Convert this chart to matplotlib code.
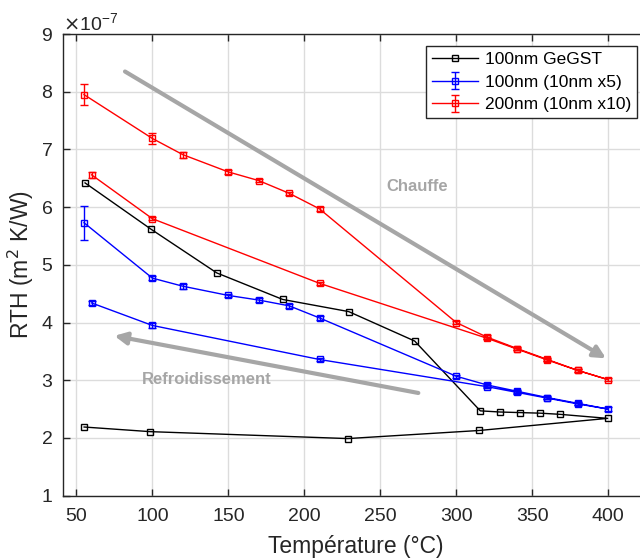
import matplotlib
matplotlib.use("Agg")
import matplotlib.pyplot as plt
from matplotlib.ticker import ScalarFormatter

plt.rcParams['font.family'] = ['Liberation Sans', 'DejaVu Sans']

# --- data (heating then cooling, RTH in m^2 K/W) ---
black_T = [55.7, 99, 142.4, 185.8, 229.2, 272.6, 315.8, 328.9, 342.1, 355.3, 368.2, 399.6,
           315.1, 228.6, 98.5, 55.1]
black_R = [6.42, 5.62, 4.86, 4.40, 4.19, 3.68, 2.47, 2.45, 2.44, 2.43, 2.41, 2.34,
           2.13, 1.99, 2.11, 2.19]

blue_T = [55, 100, 120, 150, 170, 190, 210, 300, 320, 340, 360, 380, 400,
          380, 360, 340, 320, 210, 100, 60]
blue_R = [5.73, 4.77, 4.63, 4.47, 4.39, 4.29, 4.08, 3.07, 2.92, 2.81, 2.70, 2.60, 2.50,
          2.59, 2.69, 2.79, 2.89, 3.36, 3.95, 4.34]
blue_E = [0.295, 0.04, 0.04, 0.03, 0.03, 0.03, 0.03, 0.03, 0.03, 0.03, 0.03, 0.03, 0.03,
          0.02, 0.02, 0.02, 0.02, 0.03, 0.04, 0.04]

red_T = [55, 100, 120, 150, 170, 190, 210, 300, 320, 340, 360, 380, 400,
         380, 360, 340, 320, 210, 100, 60]
red_R = [7.95, 7.19, 6.91, 6.61, 6.46, 6.24, 5.97, 4.00, 3.75, 3.55, 3.36, 3.17, 3.01,
         3.17, 3.35, 3.54, 3.73, 4.68, 5.80, 6.56]
red_E = [0.18, 0.09, 0.05, 0.03, 0.03, 0.03, 0.03, 0.03, 0.03, 0.03, 0.03, 0.03, 0.03,
         0.02, 0.02, 0.02, 0.02, 0.03, 0.03, 0.05]

labels = ['100nm GeGST', '100nm (10nm x5)', '200nm (10nm x10)']
scale = 1e-7

fig = plt.figure(figsize=(6.4, 5.6), dpi=100)
ax = fig.add_axes([62.7/640, 64.3/560, (649-62.7)/640, (495.7-34)/560])

ax.plot(black_T, [v*scale for v in black_R], color='k', lw=1, marker='s', ms=5,
        mfc='none', mec='k', mew=1, label=labels[0], zorder=3)
ax.errorbar(blue_T, [v*scale for v in blue_R], yerr=[e*scale for e in blue_E],
            color=(0, 0, 1), lw=1, marker='s', ms=5, mfc='none', mew=1,
            capsize=3, elinewidth=1, capthick=1, label=labels[1], zorder=3)
ax.errorbar(red_T, [v*scale for v in red_R], yerr=[e*scale for e in red_E],
            color=(1, 0, 0), lw=1, marker='s', ms=5, mfc='none', mew=1,
            capsize=3, elinewidth=1, capthick=1, label=labels[2], zorder=3)

ax.set_xlim(41, 426.8)
ax.set_ylim(1e-7, 9e-7)
ax.set_xticks([50, 100, 150, 200, 250, 300, 350, 400])
ax.set_yticks([i*1e-7 for i in range(1, 10)])

fmt = ScalarFormatter(useMathText=True)
fmt.set_powerlimits((0, 0))
ax.yaxis.set_major_formatter(fmt)
ax.yaxis.get_offset_text().set_fontsize(14)
ax.yaxis.get_offset_text().set_color('#262626')

ax.grid(True, color='#dcdcdc', lw=1)
ax.set_axisbelow(True)
ax.tick_params(direction='in', top=True, right=True, length=5, width=1,
               labelsize=14, colors='#262626')
ax.tick_params(axis='x', pad=9)
ax.tick_params(axis='y', pad=7)
for s in ax.spines.values():
    s.set_color('#262626')
    s.set_linewidth(1)

ax.set_xlabel('Température (°C)', fontsize=16.5, color='#262626', labelpad=7)
ax.set_ylabel('RTH (m$^2$ K/W)', fontsize=16.5, color='#262626', labelpad=3)

gray = '#a6a6a6'
ax.annotate('', xy=(398.5, 3.38e-7), xytext=(82, 8.35e-7),
            arrowprops=dict(arrowstyle='-|>', color=gray, lw=3, mutation_scale=18,
                            shrinkA=0, shrinkB=0))
ax.annotate('', xy=(75, 3.77e-7), xytext=(275, 2.78e-7),
            arrowprops=dict(arrowstyle='-|>', color=gray, lw=3, mutation_scale=18,
                            shrinkA=0, shrinkB=0))
ax.text(274, 6.35e-7, 'Chauffe', color=gray, fontsize=12, fontweight='bold',
        ha='center', va='center')
ax.text(136, 3.02e-7, 'Refroidissement', color=gray, fontsize=12, fontweight='bold',
        ha='center', va='center')

leg = ax.legend(loc='upper right', fontsize=12.5, frameon=True, fancybox=False,
                edgecolor='#262626', framealpha=1, borderaxespad=0.7,
                handlelength=2.6, handletextpad=0.4, borderpad=0.35, labelspacing=0.42)
leg.get_frame().set_linewidth(1)

fig.savefig('out.png', dpi=100)
